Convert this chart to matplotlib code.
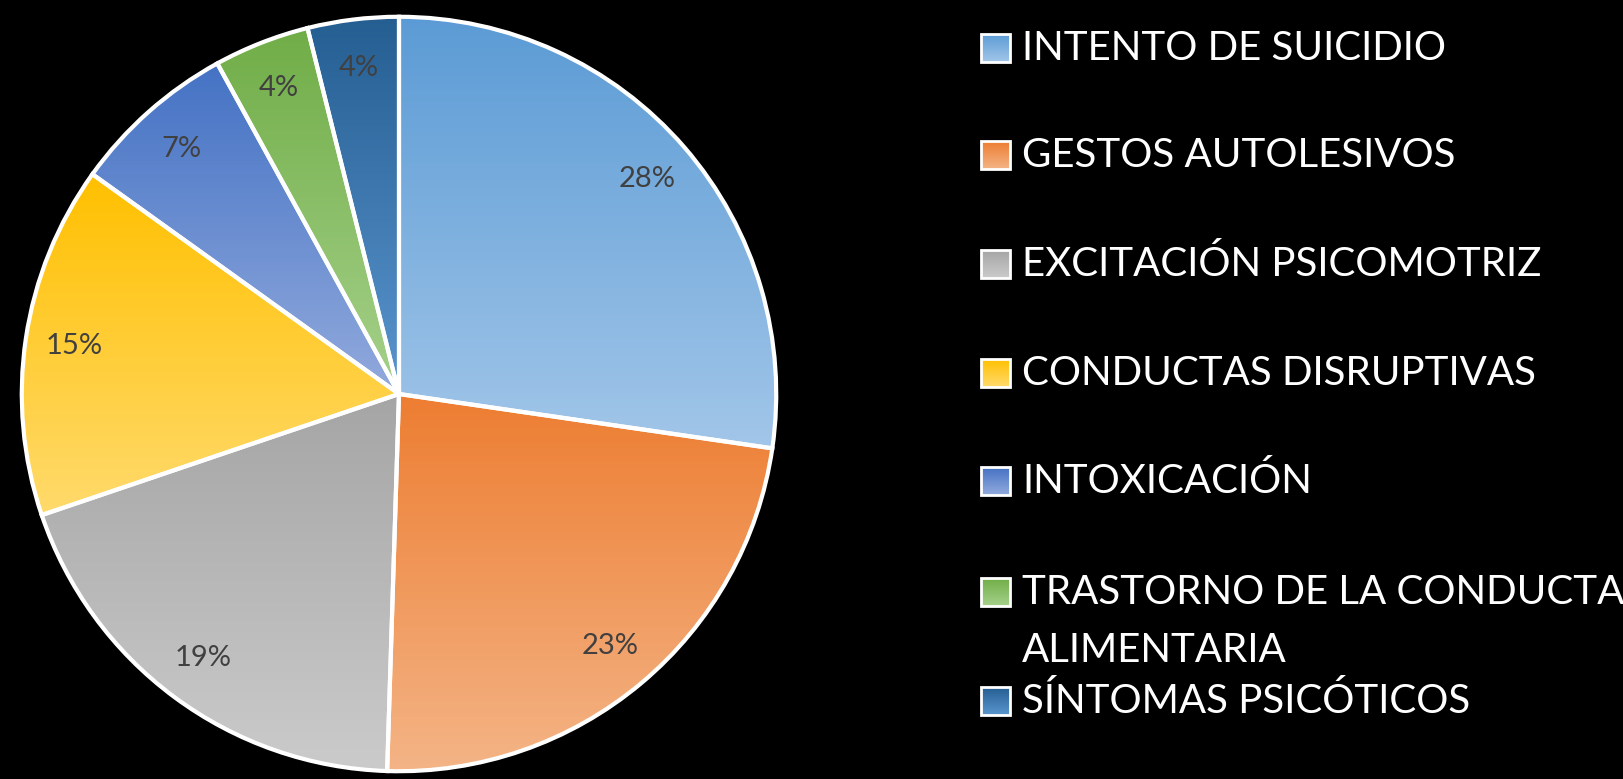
import numpy as np
import matplotlib
matplotlib.use("Agg")
import matplotlib.pyplot as plt
from matplotlib.colors import to_rgb
from matplotlib.patches import Rectangle

# Datos
categorias = ["INTENTO DE SUICIDIO", "GESTOS AUTOLESIVOS", "EXCITACIÓN PSICOMOTRIZ",
              "CONDUCTAS DISRUPTIVAS", "INTOXICACIÓN",
              "TRASTORNO DE LA CONDUCTA\nALIMENTARIA", "SÍNTOMAS PSICÓTICOS"]
valores = [27.3, 23.2, 19.3, 15.1, 7.1, 4.1, 3.9]
etiquetas = ["28%", "23%", "19%", "15%", "7%", "4%", "4%"]

# Colores (arriba -> abajo del degradado)
col_arriba = ["#5B9BD5", "#ED7D31", "#A5A5A5", "#FFC000", "#4472C4", "#70AD47", "#255E91"]
col_abajo = ["#A2C6E9", "#F4B486", "#CBCBCB", "#FFDA6C", "#92AADD", "#A6D18B", "#5A95CF"]

plt.rcParams['font.family'] = ['Lato', 'DejaVu Sans']

W, H = 1623, 779
fig = plt.figure(figsize=(W / 100, H / 100), dpi=100, facecolor='black')

cx, cy, r = 399, 394, 381
ax = fig.add_axes([(cx - r) / W, (H - cy - r) / H, 2 * r / W, 2 * r / H])
ax.set_facecolor('black')


def degradado(c1, c2, n=256):
    a = np.array(to_rgb(c1))
    b = np.array(to_rgb(c2))
    t = np.linspace(0, 1, n)[:, None]
    return (a * (1 - t) + b * t)[:, None, :]


wedges, textos = ax.pie(valores, labels=etiquetas, startangle=90, counterclock=False,
                        labeldistance=0.87, radius=1,
                        wedgeprops=dict(edgecolor='white', linewidth=3),
                        textprops=dict(color='#404040', fontsize=21))
for t in textos:
    t.set_ha('center')
    t.set_va('center')

for w, c1, c2 in zip(wedges, col_arriba, col_abajo):
    bb = w.get_path().get_extents()
    im = ax.imshow(degradado(c1, c2), extent=[bb.x0, bb.x1, bb.y0, bb.y1],
                   origin='upper', aspect='auto', zorder=0.5)
    im.set_clip_path(w)
    w.set_facecolor('none')
    w.set_zorder(1)

ax.set_xlim(-1.01, 1.01)
ax.set_ylim(-1.01, 1.01)
ax.axis('off')

# Leyenda
lg = fig.add_axes([0, 0, 1, 1])
lg.axis('off')
filas_y = [48, 155, 264, 373, 481, 592, 701]
for nombre, y, c1, c2 in zip(categorias, filas_y, col_arriba, col_abajo):
    lg.imshow(degradado(c1, c2), extent=[981, 1010, y + 14, y - 14], aspect='auto', zorder=1)
    lg.add_patch(Rectangle((981, y - 14), 29, 28, facecolor='none', edgecolor='white', lw=2, zorder=2))
    for k, linea in enumerate(nombre.split("\n")):
        lg.text(1022, y + k * 59, linea, color='white', fontsize=29, va='center', ha='left')
lg.set_xlim(0, W)
lg.set_ylim(H, 0)

fig.savefig("out.png", dpi=100, facecolor='black')
